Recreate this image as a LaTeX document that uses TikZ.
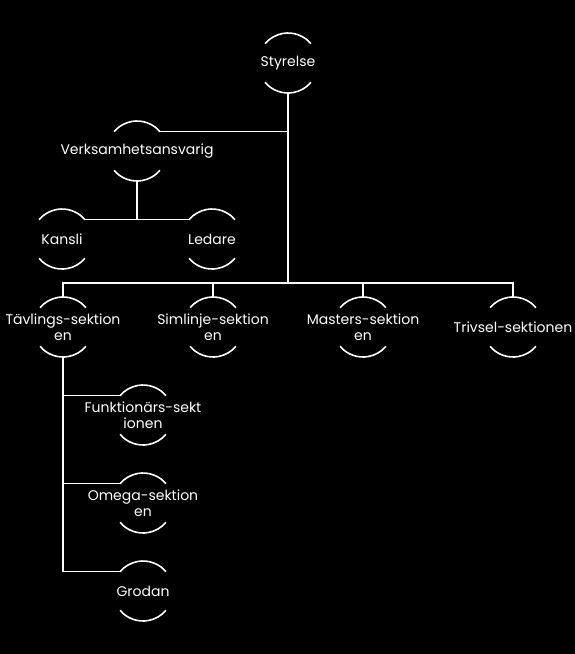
\documentclass[tikz,border=0pt]{standalone}
\usepackage{fontspec}
\setmainfont{Poppins}
\usepackage{tikz}
\usetikzlibrary{positioning, calc}
\definecolor{orgbg}{HTML}{000000}
\definecolor{orgline}{HTML}{FFFFFF}

\tikzset{
    ring/.style={circle, minimum size=60pt, inner sep=0pt, outer sep=0pt},
    ringtext/.style={text=orgline, font=\fontsize{14}{15.5}\selectfont, align=center},
    link/.style={draw=orgline, line width=1.5pt},
    arcs/.style={draw=orgline, line width=1.6pt}
}
\newcommand{\ringarcs}[1]{%
    \draw[arcs] (#1.40) arc[start angle=40, end angle=140, radius=30pt];
    \draw[arcs] (#1.220) arc[start angle=220, end angle=320, radius=30pt];
}

\begin{document}
\begin{tikzpicture}[x=1pt, y=1pt]
    \useasboundingbox (0, 0) rectangle (575, -654);
    \fill[orgbg] (0, 0) rectangle (575, -654);

    % Rings
    \node[ring, label={[ringtext]center:Styrelse}] (sty) at (288, -63) {};
    \node[ring, label={[ringtext]center:Verksamhetsansvarig}] (verk) at (137, -151) {};
    \node[ring, label={[ringtext]center:Kansli}] (kan) at (62, -239) {};
    \node[ring, label={[ringtext]center:Ledare}] (led) at (212, -239) {};
    \node[ring, label={[ringtext]center:Tävlings-sektion\\en}] (tav) at (63, -327) {};
    \node[ring, label={[ringtext]center:Simlinje-sektion\\en}] (sim) at (213, -327) {};
    \node[ring, label={[ringtext]center:Masters-sektion\\en}] (mas) at (363, -327) {};
    \node[ring, label={[ringtext]center:Trivsel-sektionen}] (tri) at (513, -327) {};
    \node[ring, label={[ringtext]center:Funktionärs-sekt\\ionen}] (fun) at (143, -415) {};
    \node[ring, label={[ringtext]center:Omega-sektion\\en}] (ome) at (143, -503) {};
    \node[ring, label={[ringtext]center:Grodan}] (gro) at (143, -591) {};

    \foreach \n in {sty,verk,kan,led,tav,sim,mas,tri,fun,ome,gro}
        {\ringarcs{\n}}

    % Links
    \coordinate (bus) at (288, -283);
    \draw[link] (sty.south) -- (bus);
    \foreach \n in {tav,sim,mas,tri}
        \draw[link] (bus) -| (\n.north);
    \draw[link] (verk.40) -- (verk.40 -| sty.south);
    \draw[link] (verk.south) |- (kan.40);
    \draw[link] (verk.south) |- (led.140);
    \foreach \n in {fun,ome,gro}
        \draw[link] (tav.south) |- (\n.140);
\end{tikzpicture}
\end{document}
